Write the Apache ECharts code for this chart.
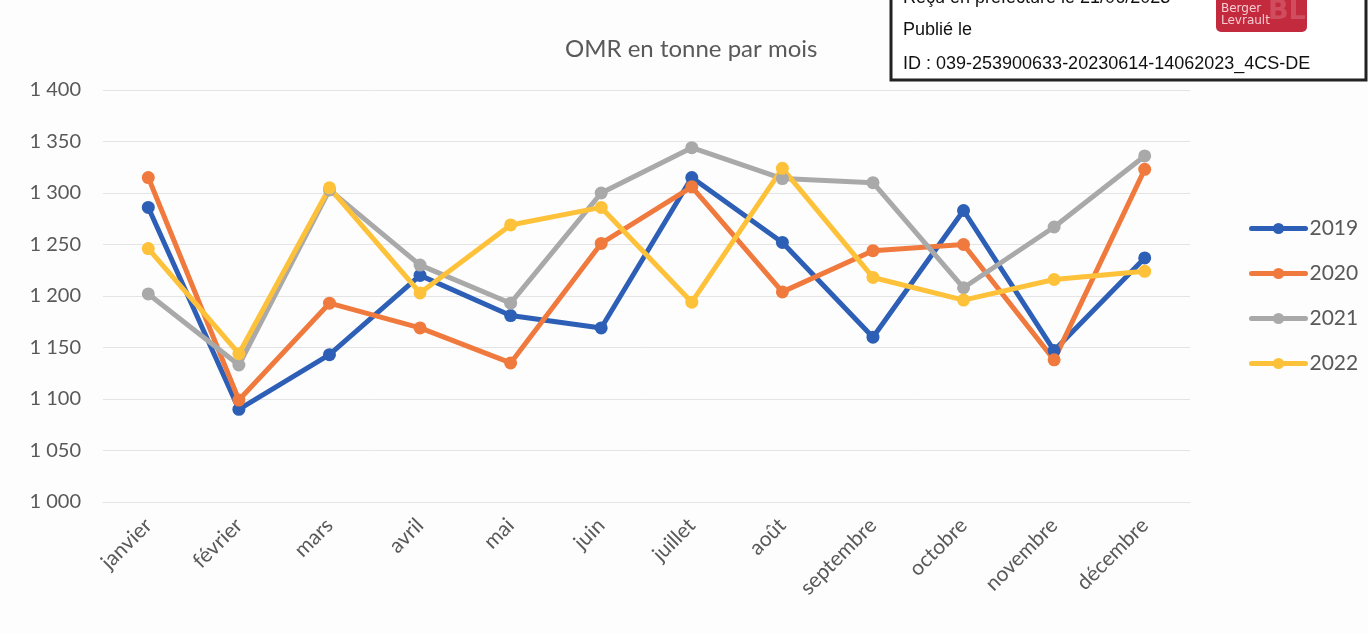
<!DOCTYPE html>
<html>
<head>
<meta charset="utf-8">
<script src="https://cdn.jsdelivr.net/npm/echarts@6/dist/echarts.min.js"></script>
<style>
  html, body { margin: 0; padding: 0; background: #fdfdfd; }
  #main { width: 1368px; height: 633px; }
</style>
</head>
<body>
<div id="main"></div>
<script>
// mois
var months = ['janvier','février','mars','avril','mai','juin','juillet','août','septembre','octobre','novembre','décembre'];
// tonnes OMR par mois
var y2019 = [1286, 1090, 1143, 1220, 1181, 1169, 1315, 1252, 1160, 1283, 1147, 1237];
var y2020 = [1315, 1099, 1193, 1169, 1135, 1251, 1306, 1204, 1244, 1250, 1138, 1323];
var y2021 = [1202, 1133, 1303, 1230, 1193, 1300, 1344, 1314, 1310, 1208, 1267, 1336];
var y2022 = [1246, 1144, 1305, 1203, 1269, 1286, 1194, 1324, 1218, 1196, 1216, 1224];

var colors = ['#2c5fb5', '#f07a3d', '#a9a9a9', '#fdc13a'];
var txt = '#595959';

function serie(name, data) {
    return {
        name: name,
        type: 'line',
        data: data,
        symbol: 'circle',
        symbolSize: 13,
        lineStyle: { width: 5 },
        emphasis: { disabled: true }
    };
}

var chart = echarts.init(document.getElementById('main'));
var option = {
    backgroundColor: '#fdfdfd',
    color: colors,
    animation: false,
    textStyle: { fontFamily: 'Lato' },
    title: {
        text: 'OMR en tonne par mois',
        left: 560,
        top: 32,
        textStyle: { color: txt, fontSize: 24, fontWeight: 'normal', fontFamily: 'Lato' }
    },
    legend: {
        orient: 'vertical',
        left: 1244,
        top: 213,
        itemWidth: 54,
        itemHeight: 14,
        itemGap: 24,
        lineStyle: { width: 5, cap: 'round' },
        textStyle: { color: txt, fontSize: 21, padding: [0, 0, 0, -1] },
        data: ['2019', '2020', '2021', '2022']
    },
    grid: { left: 103, right: 178, top: 90, bottom: 131 },
    xAxis: {
        type: 'category',
        data: months,
        boundaryGap: true,
        axisLine: { lineStyle: { color: '#e4e4e4' } },
        axisTick: { show: false },
        axisLabel: { rotate: 45, fontSize: 21, color: txt, margin: 20, interval: 0 }
    },
    yAxis: {
        type: 'value',
        min: 1000,
        max: 1400,
        interval: 50,
        axisLine: { show: false },
        axisTick: { show: false },
        axisLabel: {
            fontSize: 20, color: txt, margin: 22,
            formatter: function (v) {
                var s = String(v);
                return s.length > 3 ? s.slice(0, s.length - 3) + ' ' + s.slice(-3) : s;
            }
        },
        splitLine: { lineStyle: { color: '#e4e4e4', width: 1 } }
    },
    series: [
        serie('2019', y2019),
        serie('2020', y2020),
        serie('2021', y2021),
        serie('2022', y2022)
    ],
    graphic: [
        {
            type: 'rect',
            shape: { x: 891, y: -5, width: 475, height: 85 },
            style: { fill: '#ffffff', stroke: '#222222', lineWidth: 3 },
            z: 10
        },
        {
            type: 'text', left: 903, top: -11, z: 11,
            style: { text: 'Reçu en préfecture le 21/06/2023', fill: '#111', font: '18px "Liberation Sans"' }
        },
        {
            type: 'text', left: 903, top: 21, z: 11,
            style: { text: 'Publié le', fill: '#111', font: '18px "Liberation Sans"' }
        },
        {
            type: 'text', left: 903, top: 55, z: 11,
            style: { text: 'ID : 039-253900633-20230614-14062023_4CS-DE', fill: '#111', font: '18px "Liberation Sans"' }
        },
        {
            type: 'rect', z: 11,
            shape: { x: 1216, y: -6, width: 91, height: 38, r: 5 },
            style: { fill: '#c42a3e' }
        },
        {
            type: 'text', left: 1268, top: -2, z: 12,
            style: { text: 'BL', fill: '#cf4d5e', font: 'bold 27px "DejaVu Sans"' }
        },
        {
            type: 'text', left: 1221, top: 3, z: 13,
            style: { text: 'Berger\nLevrault', fill: '#f4ccd2', font: '12px "DejaVu Sans"', lineHeight: 12 }
        }
    ]
};
chart.setOption(option);
</script>
</body>
</html>
